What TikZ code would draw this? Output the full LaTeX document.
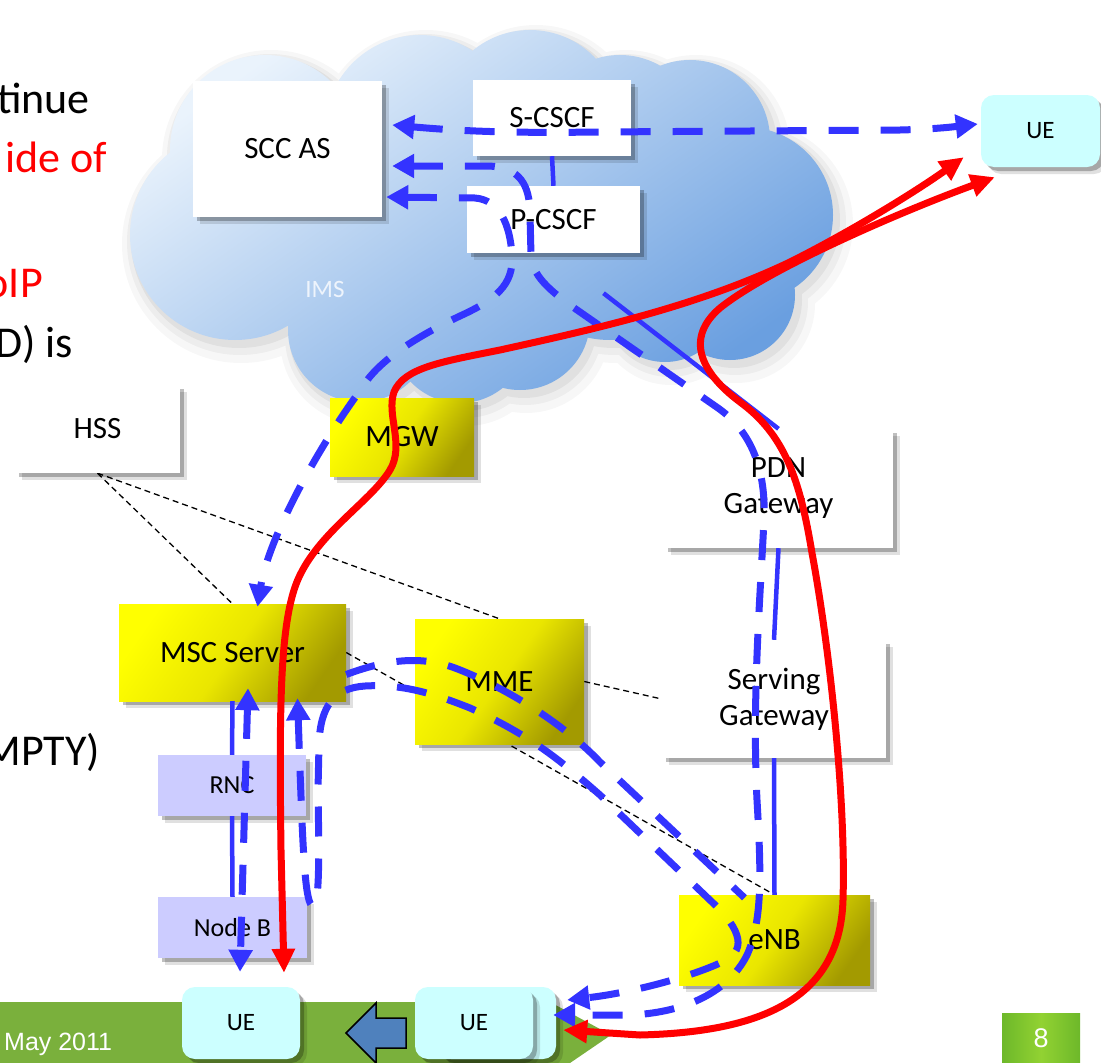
\documentclass[tikz,border=0pt]{standalone}
\usepackage{fontspec}
\setmainfont{Carlito}
\newfontfamily\footfont{Liberation Sans}
\usetikzlibrary{arrows.meta,calc,shadows}
\pgfdeclarelayer{under}
\pgfsetlayers{under,main}

\definecolor{sigblue}{HTML}{3333FF}
\definecolor{medred}{HTML}{FF0000}
\definecolor{uecyan}{HTML}{CCFFFF}
\definecolor{rancol}{HTML}{CCCCFF}
\definecolor{cloudlite}{HTML}{EAF3FC}
\definecolor{clouddark}{HTML}{6A9FE0}
\definecolor{imswhite}{HTML}{EEF4FC}
\definecolor{ylwA}{HTML}{FFFF00}
\definecolor{ylwB}{HTML}{EAE600}
\definecolor{ylwC}{HTML}{A39A00}
\definecolor{slidegreen}{HTML}{7AB03C}
\definecolor{pgnA}{HTML}{6DB82A}
\definecolor{pgnB}{HTML}{92D232}
\definecolor{arrowblue}{HTML}{4F81BD}

\tikzset{
  netbox/.style={fill=white, inner sep=0pt, align=center,
    font=\fontsize{31}{36}\selectfont,
    drop shadow={shadow xshift=7pt, shadow yshift=-7pt, fill=black, opacity=.12},
    drop shadow={shadow xshift=4pt, shadow yshift=-4pt, fill=black, opacity=.25}},
  gwbox/.style={netbox, top color=ylwA, bottom color=ylwC, middle color=ylwB, shading angle=55},
  ranbox/.style={netbox, fill=rancol, font=\fontsize{26}{30}\selectfont},
  uebox/.style={netbox, fill=uecyan, rounded corners=13pt, font=\fontsize{25}{30}\selectfont},
  sig/.style={draw=sigblue, line width=7pt, dash pattern=on 30pt off 22pt,
    >={Triangle[length=22pt,width=23pt]}},
  link/.style={draw=sigblue, line width=4.5pt},
  media/.style={draw=medred, line width=7pt, >={Triangle[length=24pt,width=22pt]}},
  ctrl/.style={draw=black, line width=1.3pt, dash pattern=on 6pt off 4pt},
  slidetext/.style={font=\fontsize{44}{53}\selectfont, inner sep=0pt, anchor=base east}
}

% lobes of the IMS cloud, #1 widens every lobe
\newcommand\imscloud[1]{(265,150) circle[radius={95+#1}] (420,130) circle[radius={95+#1}]
  (530,120) circle[radius={90+#1}] (620,135) circle[radius={80+#1}]
  (690,140) circle[radius={80+#1}] (745,215) circle[radius={88+#1}]
  (730,295) circle[radius={65+#1}] (665,300) circle[radius={62+#1}]
  (520,320) circle[radius={70+#1}] (460,335) circle[radius={68+#1}]
  (360,330) circle[radius={72+#1}] (235,235) circle[radius={105+#1}]
  (480,230) circle[radius={140+#1}] (610,235) circle[radius={105+#1}]
  (335,250) circle[radius={85+#1}]}

\begin{document}
\begin{tikzpicture}[x=1pt, y=-1pt]
\useasboundingbox (0,0) rectangle (1101,1063);

\begin{pgfonlayer}{under}
  \fill[white] (0,0) rectangle (1101,1063);
  \fill[black, opacity=.03, shift={(6,9)}] \imscloud{14};
  \fill[black, opacity=.04, shift={(5,7)}] \imscloud{8};
  \fill[black, opacity=.05, shift={(4,5)}] \imscloud{3};
  \shade[top color=cloudlite, bottom color=clouddark, shading angle=35] \imscloud{0};
\end{pgfonlayer}

\node[font=\fontsize{25}{30}\selectfont, text=imswhite] (ims) at (325,289) {IMS};

% slide text cut off at the left edge
\node[slidetext] (line1) at (90,113) {tinue};
\node[slidetext, text=medred] (line2) at (107,172) {ide of};
\node[slidetext, text=medred] (line3) at (43,297) {oIP};
\node[slidetext] (line4) at (73,357) {D) is};
\node[slidetext] (line5) at (100,765) {MPTY)};

% footer
\fill[slidegreen] (0,1002) -- (550,1002) -- (611,1035) -- (570,1063) -- (0,1063) -- cycle;
\node[font=\footfont\fontsize{25}{30}\selectfont, text=white, anchor=base west, inner sep=0pt]
  (date) at (4,1050) {May 2011};
\node[minimum width=78pt, minimum height=50pt, inner sep=0pt, left color=pgnA, right color=pgnA,
  middle color=pgnB, text=white, font=\footfont\fontsize{27}{30}\selectfont] (pgnum) at (1041,1038) {8};

% IMS
\node[netbox, minimum width=189pt, minimum height=136pt] (scc) at (287.5,149) {SCC AS};
\node[netbox, minimum width=158pt, minimum height=76pt] (scscf) at (552,118) {S-CSCF};
\node[netbox, minimum width=173pt, minimum height=67pt] (pcscf) at (553.5,219.5) {P-CSCF};
\node[uebox, minimum width=119pt, minimum height=72pt] (ueims) at (1040.5,131) {UE};

% CS domain
\node[netbox, minimum width=165pt, minimum height=88pt] (hss) at (97.5,429) {HSS};
\node[gwbox, minimum width=144pt, minimum height=78pt] (mgw) at (402,437) {MGW};
\node[gwbox, minimum width=227pt, minimum height=97pt] (msc) at (232.5,652.5) {MSC Server};
\node[ranbox, minimum width=148pt, minimum height=61pt] (rnc) at (232,785.5) {RNC};
\node[ranbox, minimum width=149pt, minimum height=61pt] (nodeb) at (232.5,927.5) {Node B};
\node[uebox, minimum width=118pt, minimum height=72pt] (uecs) at (241,1023) {UE};

% PS domain
\node[gwbox, minimum width=169pt, minimum height=125pt] (mme) at (499.5,681.5) {MME};
\node[netbox, minimum width=229pt, minimum height=119pt] (pdn) at (778.5,488.5) {PDN\\Gateway};
\node[netbox, minimum width=224pt, minimum height=118pt] (sgw) at (774,699) {Serving\\Gateway};
\node[gwbox, minimum width=191pt, minimum height=90pt] (enb) at (774.5,940) {eNB};
\node[uebox, minimum width=118pt, minimum height=72pt] (uepsb) at (497,1023) {};
\node[uebox, minimum width=118pt, minimum height=72pt] (ueps) at (474,1023) {UE};

% handover arrow
\draw[fill=arrowblue, line width=1.5pt] (346,1033) -- (376,1003) -- (376,1018) -- (406,1018)
  -- (406,1048) -- (376,1048) -- (376,1063) -- cycle;

\begin{pgfonlayer}{under}
  \draw[ctrl] (hss.south) -- (msc.north);
  \draw[ctrl] (hss.south) -- (mme.north);
  \draw[ctrl] (msc.east) -- (enb.north);
  \draw[ctrl] (mme.east) -- (sgw.west);
\end{pgfonlayer}

\coordinate (pcscfout) at ($(pcscf.south)+(50,40)$);
\draw[link] (scscf.south) -- (pcscf.north);
\draw[link] (pcscfout) -- (pdn.north);
\draw[link] (pdn.south) -- (sgw.north);
\draw[link] (sgw.south) -- (enb.north);
\draw[link] (msc.south) -- (rnc.north);
\draw[link] (rnc.south) -- (nodeb.north);

% signalling
\draw[sig, <->] ($(scc.east)+(10,-24)$) .. controls (470,132) and (520,133) .. (600,132)
  -- (900,130) .. controls (940,129) and (960,126) .. ($(ueims.west)+(-3,-7)$);
\draw[sig, <->] ($(scc.east)+(10,17)$) -- (488,166) .. controls (520,167) and (530,185) .. (530,215)
  -- (531,255) .. controls (532,275) and (548,290) .. (580,312) -- (718,408)
  .. controls (752,432) and (766,470) .. (764,520) .. controls (760,600) and (752,700) .. (757,800)
  .. controls (761,870) and (763,920) .. (747,955) .. controls (727,995) and (680,1013) .. (630,1015)
  -- ($(uepsb.east)+(-3,-8)$);
\draw[sig, <->] ($(scc.east)+(4,48)$) -- (475,198) .. controls (500,200) and (510,225) .. (512,255)
  .. controls (514,285) and (495,300) .. (460,316) .. controls (420,335) and (378,360) .. (362,388)
  .. controls (316,450) and (268,540) .. ($(msc.north)+(25,3)$);
\draw[sig, <->] ($(msc.south)+(15.5,-13)$) -- ($(uecs.north)+(-1,-15)$);
\draw[sig] ($(msc.east)+(0,22)$) .. controls (385,660) and (420,655) .. (455,668)
  .. controls (500,685) and (560,720) .. (600,762) -- ($(enb.north)+(-30,3)$);
\draw[sig, <->] ($(msc.south)+(65,-3)$) -- (300,770) .. controls (303,850) and (305,906) .. (313,906)
  .. controls (320,906) and (319,850) .. (318,790) -- (319,745)
  .. controls (320,705) and (335,688) .. (365,686) .. controls (400,684) and (430,692) .. (470,708)
  .. controls (530,735) and (560,760) .. (600,795) -- (712,902)
  .. controls (742,930) and (748,952) .. (720,963) .. controls (690,977) and (630,993) .. ($(uepsb.east)+(11,-23)$);

% media
\draw[media, <->] ($(uecs.north)+(43,-14)$) -- (281,850) .. controls (279,700) and (280,615) .. (300,575)
  .. controls (322,530) and (372,500) .. (390,470) .. controls (405,445) and (386,415) .. (394,392)
  .. controls (404,368) and (440,362) .. (500,350) .. controls (600,328) and (700,305) .. (790,262)
  .. controls (850,232) and (915,192) .. ($(ueims.south west)+(-17,-10)$);
\draw[media, <->] ($(uepsb.east)+(7,7)$) -- (640,1035) .. controls (760,1032) and (840,1000) .. (843,900)
  .. controls (846,800) and (830,650) .. (812,553) .. controls (800,480) and (785,435) .. (740,402)
  .. controls (700,372) and (685,338) .. (720,308) .. controls (770,268) and (900,212) .. ($(ueims.south west)+(14,10)$);
\end{tikzpicture}
\end{document}
